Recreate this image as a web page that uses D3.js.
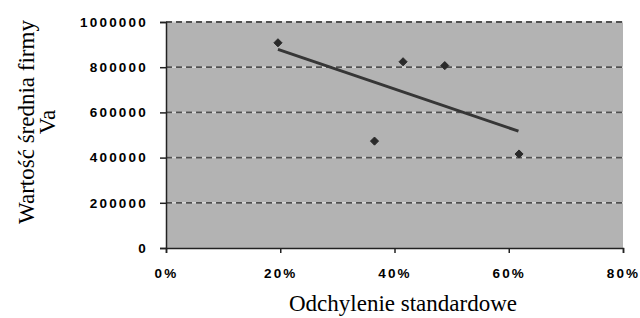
<!DOCTYPE html>
<html>
<head>
<meta charset="utf-8">
<script src="https://cdn.jsdelivr.net/npm/d3@7"></script>
<style>
  body { margin: 0; background: #fff; }
  .tick text { font-family: "Liberation Sans", Arial, sans-serif; font-weight: bold; font-size: 13.5px; letter-spacing: 2.2px; fill: #000; }
  .title { font-family: "Liberation Serif", "Times New Roman", serif; font-size: 23px; fill: #000; }
</style>
</head>
<body>
<div id="chart"></div>
<script>
// values
var stdDev = [0.196, 0.365, 0.415, 0.488, 0.618];
var firmValue = [908000, 473000, 824000, 807000, 416000];
// trendline ends as drawn
var trendX = [0.196, 0.617];
var trendY = [879000, 517000];
var xTicks = [0, 0.2, 0.4, 0.6, 0.8];
var yTicks = [0, 200000, 400000, 600000, 800000, 1000000];

var width = 640, height = 318;
var margin = { top: 22, right: 17, bottom: 70, left: 166 };

var svg = d3.select("#chart").append("svg")
  .attr("width", width)
  .attr("height", height);

var x = d3.scaleLinear().domain([0, 0.8]).range([margin.left, width - margin.right]);
var y = d3.scaleLinear().domain([0, 1000000]).range([height - margin.bottom, margin.top]);

// plot area background
svg.append("rect")
  .attr("x", x(0))
  .attr("y", y(1000000))
  .attr("width", x(0.8) - x(0))
  .attr("height", y(0) - y(1000000))
  .attr("fill", "#b3b3b3");

// gridlines (light under-stroke + dark dashes)
var grid = svg.append("g");
yTicks.filter(function (d) { return d > 0; }).forEach(function (t) {
  grid.append("line")
    .attr("x1", x(0)).attr("x2", x(0.8))
    .attr("y1", y(t)).attr("y2", y(t))
    .attr("stroke", "#d8d8d8").attr("stroke-width", 1.5);
  grid.append("line")
    .attr("x1", x(0)).attr("x2", x(0.8))
    .attr("y1", y(t)).attr("y2", y(t))
    .attr("stroke", "#505050").attr("stroke-width", 1.8)
    .attr("stroke-dasharray", "6,4");
});

// axes
var xAxis = svg.append("g")
  .attr("transform", "translate(0," + y(0) + ")")
  .call(d3.axisBottom(x).tickValues(xTicks).tickFormat(d3.format(".0%")).tickSize(5).tickPadding(15));
var yAxis = svg.append("g")
  .attr("transform", "translate(" + x(0) + ",0)")
  .call(d3.axisLeft(y).tickValues(yTicks).tickFormat(d3.format("d")).tickSize(6).tickPadding(12));

[xAxis, yAxis].forEach(function (a) {
  a.select(".domain").attr("stroke", "#222").attr("stroke-width", 1.5);
  a.selectAll(".tick line").attr("stroke", "#222").attr("stroke-width", 1.5);
});

// trendline
var line = d3.line()
  .x(function (d) { return x(d[0]); })
  .y(function (d) { return y(d[1]); });
svg.append("path")
  .datum(trendX.map(function (v, i) { return [v, trendY[i]]; }))
  .attr("d", line)
  .attr("fill", "none")
  .attr("stroke", "#363636")
  .attr("stroke-width", 3);

// points
svg.selectAll(".pt")
  .data(stdDev.map(function (v, i) { return [v, firmValue[i]]; }))
  .enter().append("path")
  .attr("class", "pt")
  .attr("d", d3.symbol().type(d3.symbolDiamond2).size(42))
  .attr("transform", function (d) { return "translate(" + x(d[0]) + "," + y(d[1]) + ")"; })
  .attr("fill", "#2a2a2a")
  .attr("stroke", "#2a2a2a")
  .attr("stroke-width", 1)
  .attr("stroke-linejoin", "round");

// axis titles
svg.append("text")
  .attr("class", "title")
  .attr("x", 403).attr("y", 311)
  .attr("text-anchor", "middle")
  .text("Odchylenie standardowe");

var yt = svg.append("text")
  .attr("class", "title")
  .attr("transform", "translate(0,122) rotate(-90)")
  .attr("text-anchor", "middle");
yt.append("tspan").attr("x", 0).attr("y", 34).text("Wartość średnia firmy");
yt.append("tspan").attr("x", 0).attr("y", 55).text("Va");
</script>
</body>
</html>
